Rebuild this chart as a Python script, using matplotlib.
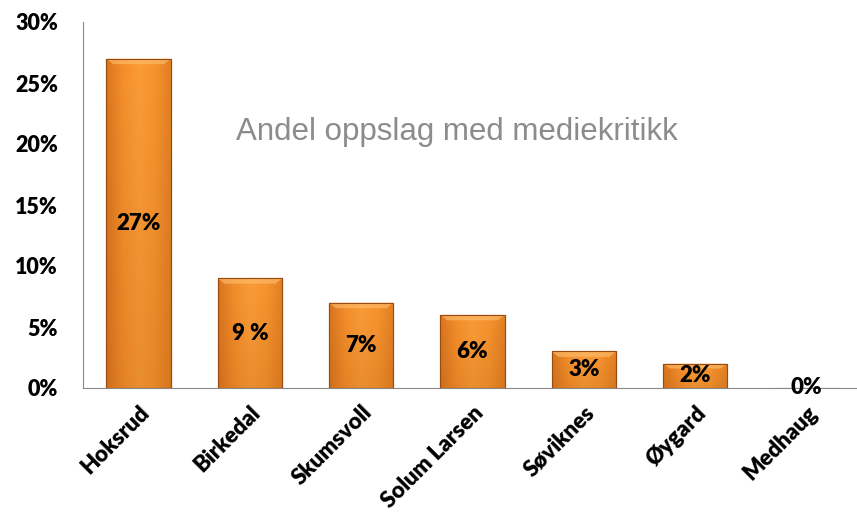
import numpy as np
import matplotlib
matplotlib.use("Agg")
import matplotlib.pyplot as plt
from matplotlib.colors import LinearSegmentedColormap

names = ["Hoksrud", "Birkedal", "Skumsvoll", "Solum Larsen", "Søviknes", "Øygard", "Medhaug"]
values = [27, 9, 7, 6, 3, 2, 0]
value_labels = ["27%", "9 %", "7%", "6%", "3%", "2%", "0%"]
yticks = [0, 5, 10, 15, 20, 25, 30]

fnt = dict(family="Lato", fontweight="heavy")

fig = plt.figure(figsize=(8.57, 5.25), dpi=100)
ax = fig.add_axes([83 / 857, 137 / 525, 779 / 857, 366 / 525])

x = np.arange(len(names))
bars = ax.bar(x, values, width=0.58, color="#F7922F", edgecolor="#9A4A10", linewidth=0.8, zorder=2)

# gradient fill for the bars (darker at the sides, lighter in the middle)
cmap = LinearSegmentedColormap.from_list("org", ["#D8761F", "#F48E2C", "#FA9C38", "#F7942F", "#E28024"])
grad = np.linspace(0, 1, 256).reshape(1, -1)
for b in bars:
    h = b.get_height()
    if h <= 0:
        continue
    x0 = b.get_x()
    w = b.get_width()
    im = ax.imshow(grad, cmap=cmap, aspect="auto", extent=[x0, x0 + w, 0, h], zorder=2.1)
    im.set_clip_path(b)
    # vertical shading, darker at bottom
    shade = np.linspace(0, 1, 100).reshape(-1, 1)
    im2 = ax.imshow(shade, cmap=LinearSegmentedColormap.from_list("s", [(0.55, 0.25, 0.0, 0.0), (0.55, 0.25, 0.0, 0.15)]),
                    aspect="auto", extent=[x0, x0 + w, 0, h], origin="upper", zorder=2.2)
    im2.set_clip_path(b)
    # bevel at the top
    bev = min(0.45, h * 0.2)
    ax.fill([x0, x0 + w, x0 + w - 0.06, x0 + 0.06], [h, h, h - bev, h - bev],
            color="#FFC070", alpha=0.6, zorder=2.3, lw=0)
    ax.bar(x0 + w / 2, h, width=w, fill=False, edgecolor="#9A4A10", linewidth=0.8, zorder=2.4)

for i, v in enumerate(values):
    ax.text(x[i], v / 2, value_labels[i], ha="center", va="center", fontsize=16,
            color="black", zorder=3, **fnt)

ax.set_xlim(-0.5, len(names) - 0.5)
ax.set_ylim(0, 30)
ax.set_yticks(yticks)
ax.set_yticklabels([f"{t}%" for t in yticks], fontsize=15.5, **fnt)
ax.set_xticks(x)
ax.set_xticklabels(names, rotation=45, ha="right", rotation_mode="anchor", fontsize=16, **fnt)
ax.tick_params(axis="y", length=0, pad=18)
ax.tick_params(axis="x", length=0, pad=10)

for s in ["top", "right"]:
    ax.spines[s].set_visible(False)
ax.spines["left"].set_color("#888888")
ax.spines["bottom"].set_color("#888888")

ax.text(457, 393, "Andel oppslag med mediekritikk", transform=None, ha="center", va="center",
        fontsize=22.5, color="#8C8C8C", family="Liberation Sans")

fig.savefig("out.png", dpi=100)
